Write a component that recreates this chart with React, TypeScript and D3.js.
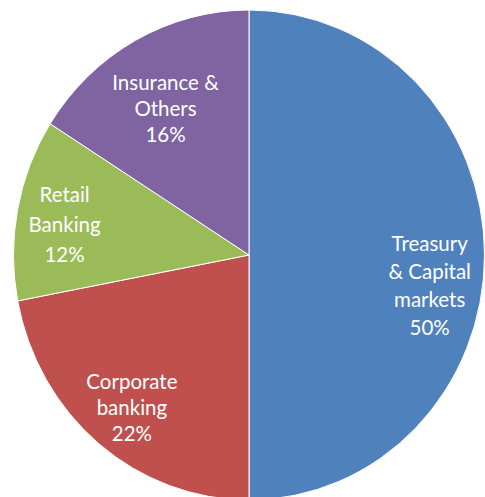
import React, { useEffect, useRef } from "react";
import * as d3 from "d3";

// segments, clockwise from 12 o'clock
const segments = ["Treasury & Capital markets", "Corporate banking", "Retail Banking", "Insurance & Others"];
const shares = [50, 22, 12, 16];
const labelLines = [
    ["Treasury", "& Capital", "markets"],
    ["Corporate", "banking"],
    ["Retail", "Banking"],
    ["Insurance &", "Others"],
];
const colors = ["#4F81BD", "#C0504D", "#9BBB59", "#8064A2"];

const width = 485;
const height = 497;

const App = () => {
    const ref = useRef(null);

    useEffect(() => {
        const cx = 249;
        const cy = 255;
        const rx = 235.5;
        const ry = 245;
        // label tweaks (dx, dy, line spacing) to sit where the original puts them
        const nudge = [[-3, 31, 28], [0, 6, 26], [-4, 6, 30], [5, 21, 26]];

        const svg = d3.select(ref.current);
        svg.selectAll("*").remove();

        const createPie = d3.pie().value(d => d.value).sort(null);
        const arcs = createPie(segments.map((name, i) => ({ name, value: shares[i] })));
        const createArc = d3.arc().innerRadius(0).outerRadius(rx);
        const labelArc = d3.arc().innerRadius(rx * 0.78).outerRadius(rx * 0.78);
        const total = d3.sum(shares);
        const pct = d3.format(".0%");

        const pie = svg.append("g")
            .attr("transform", `translate(${cx},${cy}) scale(1,${ry / rx})`);

        pie.selectAll("path")
            .data(arcs)
            .enter()
            .append("path")
            .attr("d", createArc)
            .attr("fill", (d, i) => colors[i])
            .attr("stroke", "#fff")
            .attr("stroke-width", 1)
            .attr("vector-effect", "non-scaling-stroke");

        const labels = svg.append("g")
            .attr("transform", `translate(${cx},${cy})`);

        arcs.forEach((d, i) => {
            const [x, y] = labelArc.centroid(d);
            const [dx, dy, lh] = nudge[i];
            const lines = labelLines[i].concat([pct(d.value / total)]);
            const px = x + dx;
            const py = y * (ry / rx) + dy;
            const t = labels.append("text")
                .attr("text-anchor", "middle")
                .attr("fill", "#fff")
                .style("font-family", "Lato, 'Open Sans', sans-serif")
                .style("font-size", "20.5px");
            lines.forEach((line, j) => {
                t.append("tspan")
                    .attr("x", px)
                    .attr("y", py + (j - (lines.length - 1) / 2) * lh + 7)
                    .text(line);
            });
        });
    }, []);

    return (
        <svg
            ref={ref}
            width={width}
            height={height}
            style={{ position: "absolute", left: 0, top: 0, background: "#fff" }}
        />
    );
};

export default App;
